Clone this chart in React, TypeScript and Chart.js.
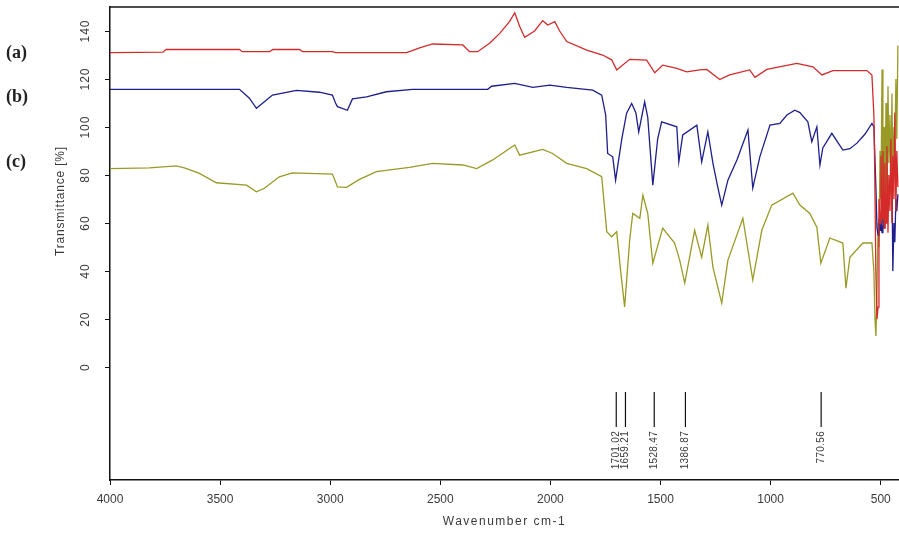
import React, { useEffect, useRef } from "react";
import { Chart, registerables } from "chart.js";
Chart.register(...registerables);

// (a) red spectrum
const WN_A = [4000, 3760, 3745, 3412, 3400, 3275, 3260, 3140, 3125, 2990, 2975, 2653, 2594, 2535, 2398, 2367, 2330, 2275, 2230, 2185, 2162, 2140, 2117, 2072, 2035, 2012, 1980, 1958, 1926, 1835, 1763, 1722, 1699, 1640, 1563, 1526, 1490, 1426, 1381, 1322, 1290, 1231, 1186, 1095, 1071, 1017, 881, 808, 767, 717, 563, 540, 531, 527, 522, 517, 512, 508, 503, 499, 494, 490, 485, 481, 476, 472, 467, 463, 458, 454, 449, 445, 440, 436, 431, 427, 422];
const T_A = [131, 131.2, 132.3, 132.3, 131.4, 131.4, 132.3, 132.3, 131.4, 131.4, 131, 131, 133, 134.6, 134.2, 131.4, 131.4, 135, 139, 144, 147.6, 142, 137.4, 140, 144.3, 142.5, 143.9, 140, 135.6, 132, 130, 128, 123.8, 128.2, 127.9, 122.6, 125.8, 124.4, 123, 123.8, 124, 119.8, 121.7, 123.8, 120.7, 124, 126.5, 125.1, 121.7, 123.5, 123.5, 121.7, 105, 80, 40, 20, 25, 70, 60, 88, 62, 90, 58, 85, 60, 92, 56, 80, 65, 95, 60, 88, 70, 106, 65, 90, 75];

// (b) blue spectrum
const WN_B = [4000, 3412, 3367, 3335, 3299, 3262, 3153, 3049, 2990, 2976, 2967, 2922, 2899, 2835, 2745, 2626, 2285, 2267, 2162, 2080, 2003, 1926, 1808, 1767, 1749, 1740, 1717, 1704, 1676, 1654, 1631, 1612, 1599, 1572, 1558, 1535, 1513, 1495, 1426, 1417, 1399, 1335, 1313, 1285, 1262, 1240, 1222, 1194, 1153, 1103, 1081, 1049, 1003, 958, 926, 890, 867, 831, 813, 790, 776, 763, 722, 672, 640, 608, 572, 540, 531, 522, 517, 512, 508, 503, 499, 494, 490, 485, 481, 476, 472, 467, 463, 458, 454, 449, 445, 440, 436, 431, 427, 422];
const T_B = [115.7, 115.7, 112, 107.8, 110.5, 113.3, 115.3, 114.5, 113.3, 110, 108.5, 107, 111.7, 112.6, 114.7, 115.7, 115.7, 117, 118.2, 116.5, 117.5, 116.5, 115.4, 113.3, 105, 89, 87.6, 77.9, 95, 105.8, 109.8, 106, 98, 110.5, 104, 75.8, 95, 102.2, 100.1, 85.5, 96.7, 100.8, 85.5, 98, 85, 75, 67.5, 77.9, 86.3, 98.8, 74.6, 87.6, 100.8, 101.5, 105, 107, 106, 102.2, 93.9, 100.1, 84.2, 91.3, 97.4, 90.4, 91, 93.3, 97, 101.5, 100, 75, 58, 55, 62, 57, 62, 56, 62, 58, 66, 70, 64, 72, 68, 78, 75, 79, 40, 60, 52, 70, 65, 72];

// (c) olive spectrum
const WN_C = [4000, 3821, 3699, 3662, 3594, 3517, 3380, 3335, 3299, 3231, 3172, 2990, 2967, 2926, 2867, 2790, 2640, 2535, 2398, 2335, 2262, 2162, 2140, 2035, 1990, 1926, 1835, 1767, 1744, 1722, 1699, 1681, 1663, 1640, 1626, 1594, 1580, 1558, 1535, 1490, 1436, 1413, 1390, 1345, 1313, 1285, 1262, 1222, 1194, 1126, 1081, 1040, 995, 899, 867, 822, 790, 772, 731, 672, 658, 640, 581, 540, 531, 526, 522, 517, 512, 508, 503, 499, 494, 490, 485, 481, 476, 472, 467, 463, 458, 454, 449, 445, 440, 436, 431, 427, 422];
const T_C = [82.7, 83, 83.8, 83, 80.7, 76.8, 75.8, 73, 74.5, 79.3, 80.9, 80.4, 75.1, 74.9, 78.2, 81.4, 83.2, 84.9, 84.2, 82.7, 86.3, 92.5, 88.3, 90.7, 89, 84.9, 82.7, 79.3, 56.4, 54.3, 56.4, 40, 25.1, 52.9, 64, 62, 71.7, 64, 43.3, 57.9, 51.7, 44.6, 35, 57, 45.8, 59.2, 41.7, 26.7, 44.6, 62, 36.3, 57, 67.5, 72.5, 67.5, 64, 58.3, 43.3, 53.8, 51.7, 32.9, 45.8, 51.7, 51.7, 40, 20, 13, 30, 60, 50, 90, 70, 124, 60, 100, 70, 110, 65, 117, 85, 105, 75, 114, 80, 100, 90, 120, 95, 134];

const SERIES_NAMES = ["(a)", "(b)", "(c)"];
const SERIES_LABEL_VALUES = [130.8, 112.5, 85.5];
const X_TICKS = [4000, 3500, 3000, 2500, 2000, 1500, 1000, 500];
const Y_TICKS = [0, 20, 40, 60, 80, 100, 120, 140];
const PEAKS = [1701.02, 1659.21, 1528.47, 1386.87, 770.56];
const PEAK_LABELS = ["1701.02", "1659.21", "1528.47", "1386.87", "770.56"];

const toPts = (wn: number[], t: number[]) => wn.map((w, i) => ({ x: w, y: t[i] }));

const FONT = "'Liberation Sans', Arial, sans-serif";

const decor = {
  id: "decor",
  afterDraw(chart: any) {
    const { ctx, chartArea, scales } = chart;
    const xs = scales.x;
    const ys = scales.y;
    ctx.save();
    // top border
    ctx.strokeStyle = "#111";
    ctx.lineWidth = 1.5;
    ctx.beginPath();
    ctx.moveTo(chartArea.left, chartArea.top);
    ctx.lineTo(chartArea.right, chartArea.top);
    ctx.stroke();

    // y tick labels rotated
    ctx.fillStyle = "#3a3a3a";
    ctx.font = `12px ${FONT}`;
    (ctx as any).letterSpacing = "1px";
    ctx.textAlign = "center";
    ctx.textBaseline = "middle";
    Y_TICKS.forEach((v) => {
      const py = ys.getPixelForValue(v);
      ctx.save();
      ctx.translate(86, py);
      ctx.rotate(-Math.PI / 2);
      ctx.fillText(String(v), 0, 0);
      ctx.restore();
    });

    // y title
    ctx.save();
    ctx.translate(61, 201);
    ctx.rotate(-Math.PI / 2);
    (ctx as any).letterSpacing = "0.8px";
    ctx.fillText("Transmittance [%]", 0, 0);
    ctx.restore();

    // x title
    (ctx as any).letterSpacing = "1.5px";
    ctx.fillText("Wavenumber cm-1", (chartArea.left + chartArea.right) / 2, 522);

    // peak markers
    ctx.strokeStyle = "#111";
    ctx.lineWidth = 1.2;
    ctx.font = `10px ${FONT}`;
    (ctx as any).letterSpacing = "0.3px";
    PEAKS.forEach((w, i) => {
      const px = xs.getPixelForValue(w);
      ctx.beginPath();
      ctx.moveTo(px, 392);
      ctx.lineTo(px, 427);
      ctx.stroke();
      ctx.save();
      ctx.translate(px, 431);
      ctx.rotate(-Math.PI / 2);
      ctx.textAlign = "right";
      ctx.fillText(PEAK_LABELS[i], 0, 0);
      ctx.restore();
    });

    // series labels
    (ctx as any).letterSpacing = "0px";
    ctx.fillStyle = "#222";
    ctx.font = `bold 18px 'Liberation Serif', 'DejaVu Serif', serif`;
    ctx.textAlign = "left";
    SERIES_NAMES.forEach((n, i) => {
      ctx.fillText(n, 6, ys.getPixelForValue(SERIES_LABEL_VALUES[i]));
    });
    ctx.restore();
  },
};

export default function App() {
  const ref = useRef<HTMLCanvasElement | null>(null);
  useEffect(() => {
    if (!ref.current) return;
    const chart = new Chart(ref.current, {
      type: "scatter",
      data: {
        datasets: [
          { label: "(a)", data: toPts(WN_A, T_A), borderColor: "#d42a2a", showLine: true, pointRadius: 0, borderWidth: 1.3 },
          { label: "(b)", data: toPts(WN_B, T_B), borderColor: "#1e1e8c", showLine: true, pointRadius: 0, borderWidth: 1.3 },
          { label: "(c)", data: toPts(WN_C, T_C), borderColor: "#9a9a26", showLine: true, pointRadius: 0, borderWidth: 1.3 },
        ],
      },
      options: {
        animation: false,
        responsive: false,
        layout: { padding: { top: 7, right: 0, left: 0, bottom: 0 } },
        plugins: { legend: { display: false }, tooltip: { enabled: false } },
        scales: {
          x: {
            type: "linear",
            reverse: true,
            min: 417,
            max: 4000,
            afterBuildTicks: (s: any) => { s.ticks = X_TICKS.map((v) => ({ value: v })); },
            afterFit: (s: any) => { s.height = 59; },
            grid: { display: true, drawOnChartArea: false, drawTicks: true, tickLength: 5, color: "#111" },
            border: { display: true, color: "#111", width: 1.5 },
            ticks: {
              font: { family: FONT, size: 12 },
              color: "#3a3a3a",
              padding: 7,
              maxRotation: 0,
              minRotation: 0,
              callback: (v: any) => String(v),
            },
          },
          y: {
            type: "linear",
            min: -47,
            max: 150,
            afterBuildTicks: (s: any) => { s.ticks = Y_TICKS.map((v) => ({ value: v })); },
            afterFit: (s: any) => { s.width = 110; },
            grid: { display: true, drawOnChartArea: false, drawTicks: true, tickLength: 5, color: "#111" },
            border: { display: true, color: "#111", width: 1.5 },
            ticks: { display: false },
          },
        },
      },
      plugins: [decor],
    } as any);
    return () => chart.destroy();
  }, []);
  return (
    <div style={{ position: "absolute", left: 0, top: 0, width: 899, height: 539, background: "#fff" }}>
      <canvas ref={ref} width={899} height={539} />
    </div>
  );
}
